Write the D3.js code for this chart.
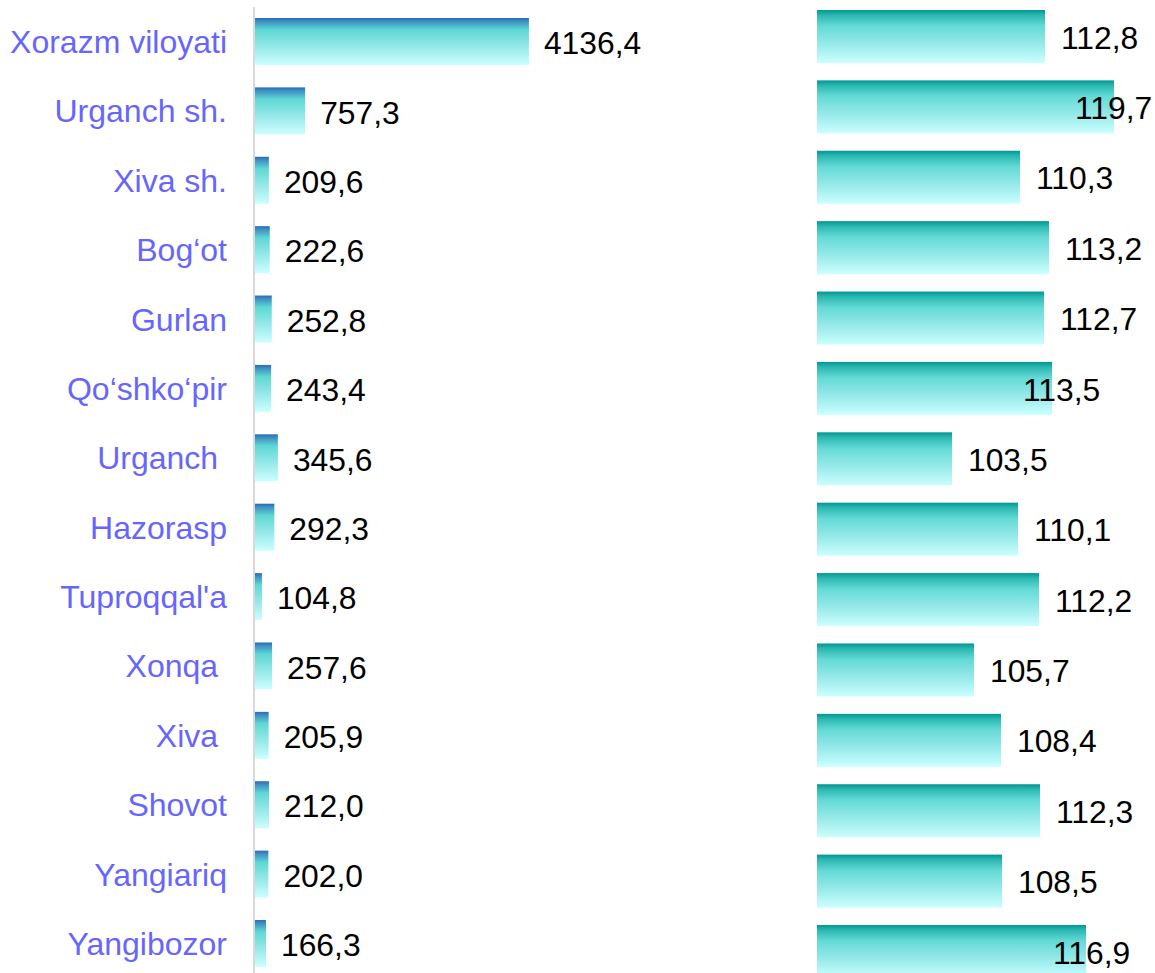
<!DOCTYPE html>
<html>
<head>
<meta charset="utf-8">
<script src="https://cdn.jsdelivr.net/npm/d3@7"></script>
<style>
  body { margin: 0; background: #fff; }
  text { font-family: "Liberation Sans", Arial, sans-serif; }
  .cat { fill: #6666ff; font-size: 32px; white-space: pre; }
  .val { fill: #000; font-size: 31.8px; }
</style>
</head>
<body>
<script>
var width = 1155,
  height = 973;

// district names (trailing spaces as in the source sheet)
var districts = ["Xorazm viloyati", "Urganch sh.", "Xiva sh.", "Bog‘ot", "Gurlan", "Qo‘shko‘pir",
  "Urganch ", "Hazorasp", "Tuproqqal'a", "Xonqa ", "Xiva ", "Shovot", "Yangiariq", "Yangibozor"];

// volume, bln. so'm
var volume = [4136.4, 757.3, 209.6, 222.6, 252.8, 243.4, 345.6, 292.3, 104.8, 257.6, 205.9, 212.0, 202.0, 166.3];

// growth rate, %
var growth = [112.8, 119.7, 110.3, 113.2, 112.7, 113.5, 103.5, 110.1, 112.2, 105.7, 108.4, 112.3, 108.5, 116.9];

// a few labels were dragged left in the original
var growthLabelNudge = {1: -55, 5: -45, 13: -49};

var fmt = function(v) { return d3.format(".1f")(v).replace(".", ","); };

var svg = d3.select("body").append("svg")
  .attr("width", width)
  .attr("height", height);

var defs = svg.append("defs");

function gradient(id, stops) {
  var g = defs.append("linearGradient")
    .attr("id", id)
    .attr("x1", 0).attr("y1", 0)
    .attr("x2", 0).attr("y2", 1);
  stops.forEach(function(s) {
    g.append("stop").attr("offset", s[0]).attr("stop-color", s[1]);
  });
}

gradient("gradLeft", [[0, "#2e6ab3"], [0.08, "#3f94c4"], [0.25, "#5ed8d3"], [0.6, "#94e8e8"], [1, "#ccffff"]]);
gradient("gradRight", [[0, "#009792"], [0.1, "#2cb8b2"], [0.3, "#63dad6"], [0.65, "#98eaea"], [1, "#ccffff"]]);

// left panel
var yLeft = d3.scaleBand()
  .domain(d3.range(districts.length))
  .range([18, 967])
  .paddingInner(0.323)
  .paddingOuter(0);

var xLeft = d3.scaleLinear()
  .domain([0, 4500])
  .range([255, 553]);

svg.append("line")
  .attr("x1", 254).attr("x2", 254)
  .attr("y1", 7).attr("y2", height)
  .attr("stroke", "#d9d9d9")
  .attr("stroke-width", 2);

svg.append("g").selectAll("rect")
  .data(volume)
  .enter()
  .append("rect")
  .attr("x", xLeft(0))
  .attr("y", function(d, i) { return yLeft(i); })
  .attr("width", function(d) { return xLeft(d) - xLeft(0); })
  .attr("height", yLeft.bandwidth())
  .attr("fill", "url(#gradLeft)");

svg.append("g").selectAll("text")
  .data(volume)
  .enter()
  .append("text")
  .attr("class", "val")
  .attr("x", function(d) { return xLeft(d) + 15; })
  .attr("y", function(d, i) { return yLeft(i) + yLeft.bandwidth() / 2; })
  .attr("dy", "0.4em")
  .text(fmt);

svg.append("g").selectAll("text")
  .data(districts)
  .enter()
  .append("text")
  .attr("class", "cat")
  .attr("x", 227)
  .attr("y", function(d, i) { return yLeft(i) + yLeft.bandwidth() / 2; })
  .attr("dy", "0.36em")
  .attr("text-anchor", "end")
  .text(function(d) { return d; });

// right panel
var yRight = d3.scaleBand()
  .domain(d3.range(districts.length))
  .range([10, 978])
  .paddingInner(0.247)
  .paddingOuter(0);

var xRight = d3.scaleLinear()
  .domain([90, 125])
  .range([817, 1167]);

svg.append("g").selectAll("rect")
  .data(growth)
  .enter()
  .append("rect")
  .attr("x", xRight(90))
  .attr("y", function(d, i) { return yRight(i); })
  .attr("width", function(d) { return xRight(d) - xRight(90); })
  .attr("height", yRight.bandwidth())
  .attr("fill", "url(#gradRight)");

svg.append("g").selectAll("text")
  .data(growth)
  .enter()
  .append("text")
  .attr("class", "val")
  .attr("x", function(d, i) { return xRight(d) + 16 + (growthLabelNudge[i] || 0); })
  .attr("y", function(d, i) { return yRight(i) + yRight.bandwidth() / 2; })
  .attr("dy", "0.38em")
  .text(fmt);
</script>
</body>
</html>
